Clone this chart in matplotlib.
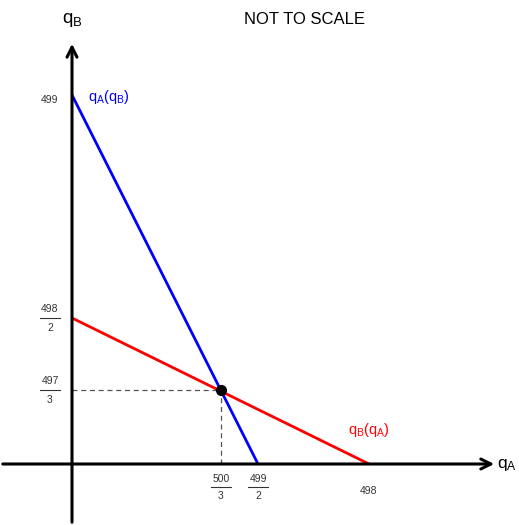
import matplotlib
matplotlib.use("Agg")
import matplotlib.pyplot as plt
import numpy as np

plt.rcParams['font.family'] = ['Liberation Sans', 'DejaVu Sans']
plt.rcParams['mathtext.fontset'] = 'custom'
plt.rcParams['mathtext.rm'] = 'Liberation Sans'
plt.rcParams['mathtext.it'] = 'Liberation Sans'

# values (real units)
qA_ticks = [500 / 3, 499 / 2, 498]
qA_tick_labels = [('500', '3'), ('499', '2'), '498']
qB_ticks = [497 / 3, 498 / 2, 499]
qB_tick_labels = [('497', '3'), ('498', '2'), '499']

# best responses (end points)
qA_of_qB_x = [0, 499 / 2]
qA_of_qB_y = [499, 0]
qB_of_qA_x = [0, 498]
qB_of_qA_y = [498 / 2, 0]
eq_x, eq_y = 500 / 3, 497 / 3

# "not to scale": piecewise scale from real values to drawing units
x_knots = [0, 500 / 3, 499 / 2, 498]
x_draw = [0, 149, 186, 297]
y_knots = [0, 497 / 3, 498 / 2, 499]
y_draw = [0, 74, 146, 369]


def sx(v):
    return np.interp(v, x_knots, x_draw)


def sy(v):
    return np.interp(v, y_knots, y_draw)


fig = plt.figure(figsize=(5.19, 5.25), dpi=100)
ax = fig.add_axes([0, 0, 1, 1])
ax.set_xlim(-72, 447)
ax.set_ylim(-61, 464)
ax.axis('off')

# axes with arrows
ax.annotate('', xy=(425, 0), xytext=(-72, 0),
            arrowprops=dict(arrowstyle='->', lw=2.2, color='black', mutation_scale=18))
ax.annotate('', xy=(0, 423), xytext=(0, -61),
            arrowprops=dict(arrowstyle='->', lw=2.2, color='black', mutation_scale=18))
ax.text(445, -1, r'$\mathrm{q_A}$', fontsize=12.5, va='center', ha='right')
ax.text(0, 444, r'$\mathrm{q_B}$', fontsize=13.5, va='center', ha='center')

# lines
ax.plot(sx(qA_of_qB_x), sy(qA_of_qB_y), color='blue', lw=2, solid_capstyle='butt')
ax.plot(sx(qB_of_qA_x), sy(qB_of_qA_y), color='red', lw=2, solid_capstyle='butt')

# dashed guides
ax.plot([0, sx(eq_x)], [sy(eq_y), sy(eq_y)], color='#555555', lw=0.9, ls=(0, (4, 3)))
ax.plot([sx(eq_x), sx(eq_x)], [0, sy(eq_y)], color='#555555', lw=0.9, ls=(0, (4, 3)))
ax.plot([sx(eq_x)], [sy(eq_y)], 'o', color='black', ms=7, zorder=5)

# line labels
ax.text(16, 367, r'$\mathrm{q_A(q_B)}$', color='blue', fontsize=10.5, va='center')
ax.text(276, 34, r'$\mathrm{q_B(q_A)}$', color='red', fontsize=10.5, va='center')

ax.text(233, 444, 'NOT TO SCALE', fontsize=12, ha='center', va='center')

# tick labels
fs = 7.5
for v, lab in zip(qA_ticks, qA_tick_labels):
    x = sx(v)
    if isinstance(lab, tuple):
        ax.text(x, -15, lab[0], fontsize=fs, ha='center', va='center', color='#333333')
        ax.plot([x - 10, x + 10], [-23, -23], color='#333333', lw=0.8)
        ax.text(x, -32, lab[1], fontsize=fs, ha='center', va='center', color='#333333')
    else:
        ax.text(x, -27, lab, fontsize=fs, ha='center', va='center', color='#333333')

for v, lab in zip(qB_ticks, qB_tick_labels):
    y = sy(v)
    if isinstance(lab, tuple):
        ax.text(-22, y + 9, lab[0], fontsize=fs, ha='center', va='center', color='#333333')
        ax.plot([-32, -12], [y, y], color='#333333', lw=0.8)
        ax.text(-22, y - 10, lab[1], fontsize=fs, ha='center', va='center', color='#333333')
    else:
        ax.text(-22, y - 5, lab, fontsize=fs, ha='center', va='center', color='#333333')

fig.savefig('out.png', dpi=100)
